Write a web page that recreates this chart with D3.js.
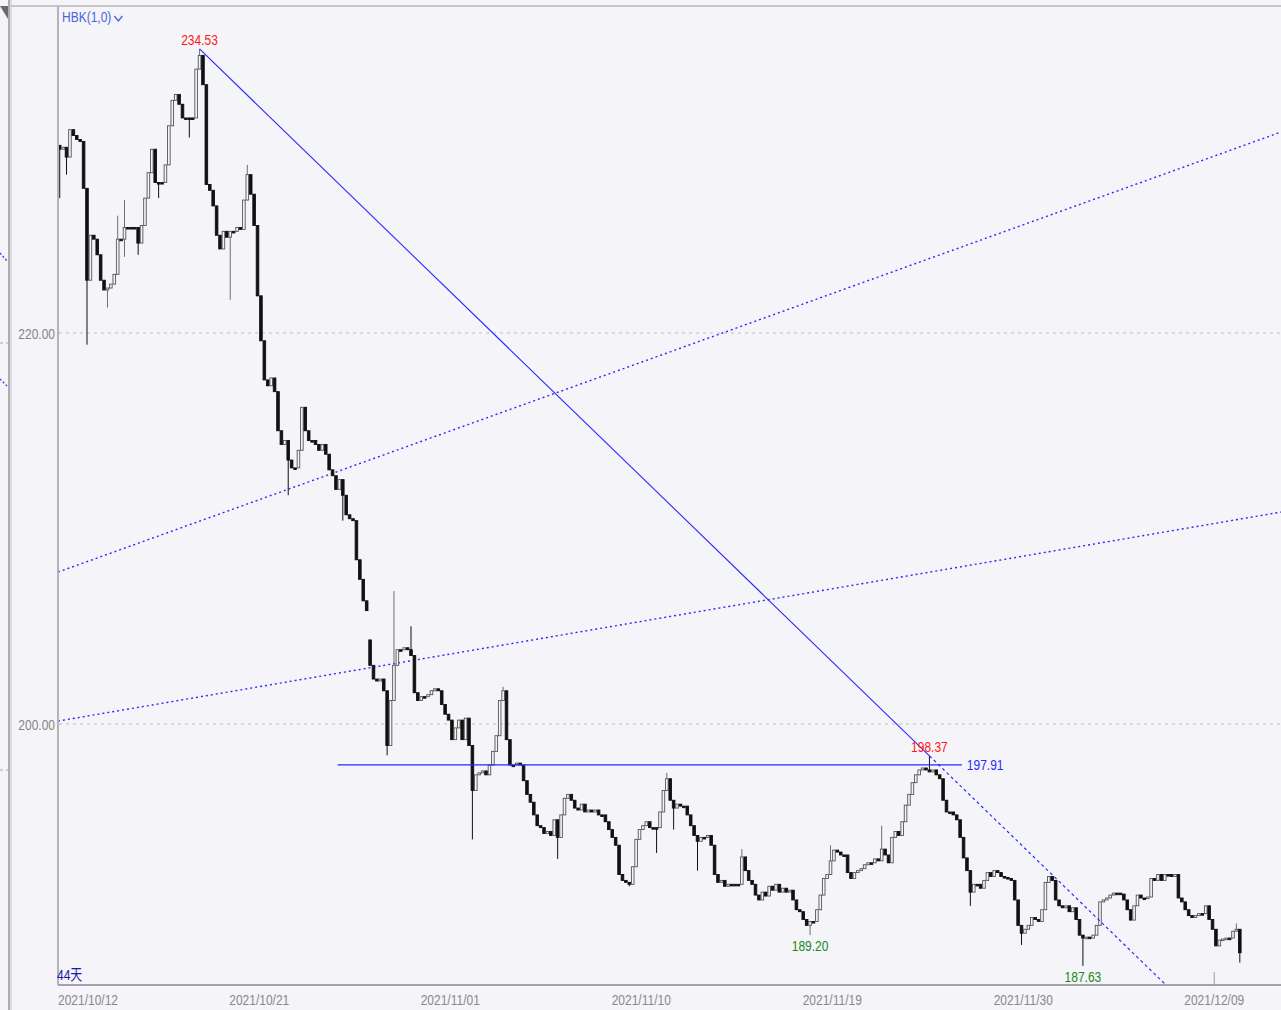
<!DOCTYPE html>
<html>
<head>
<meta charset="utf-8">
<script src="https://cdn.jsdelivr.net/npm/d3@7/dist/d3.min.js"></script>
<style>
body { margin: 0; background: #f4f4f9; overflow: hidden; }
text { font-family: "Liberation Sans", Arial, "Noto Sans CJK SC", sans-serif; font-size: 15px; }
</style>
</head>
<body>
<svg id="chart" width="1281" height="1010"></svg>
<script>
// bar closes (8 bars per trading day, first 3 bars are the tail of 2021/10/11)
var closes = [
  229.4, 229.5, 229.0, 230.4, 230.1, 229.9, 229.8, 227.4, 222.7, 225.0,
  224.8, 224.0, 222.7, 222.2, 222.3, 222.5, 223.0, 224.8, 224.8, 225.4,
  225.4, 225.4, 225.4, 224.6, 225.5, 226.9, 228.2, 229.4, 227.7, 227.7,
  227.7, 228.6, 230.6, 231.9, 232.2, 231.7, 231.0, 231.0, 231.0, 231.0,
  233.5, 234.2, 232.7, 227.6, 227.3, 226.5, 225.0, 224.3, 225.2, 224.9,
  225.2, 225.2, 225.4, 225.3, 226.8, 228.1, 227.1, 225.5, 221.9, 219.6,
  217.6, 217.3, 217.7, 217.0, 215.0, 214.3, 214.5, 213.5, 213.1, 213.1,
  214.0, 216.2, 215.0, 214.5, 214.5, 214.3, 214.0, 214.3, 213.8, 213.0,
  212.7, 212.0, 212.5, 211.7, 210.7, 210.5, 210.4, 208.4, 207.4, 206.3,
  205.8, 203.0, 202.3, 202.2, 202.3, 201.7, 198.9, 201.2, 203.0, 203.8,
  203.8, 203.9, 203.8, 203.5, 201.6, 201.2, 201.4, 201.4, 201.5, 201.7,
  201.8, 201.7, 201.0, 200.5, 200.2, 199.2, 199.8, 200.2, 199.2, 200.3,
  198.9, 196.6, 197.4, 197.5, 197.6, 197.4, 197.9, 198.6, 199.4, 201.2,
  201.7, 199.2, 197.9, 197.9, 198.0, 197.9, 197.1, 196.4, 196.0, 195.35,
  194.8, 194.7, 194.4, 194.5, 194.3, 195.1, 194.2, 195.35, 196.2, 196.4,
  196.1, 195.7, 195.6, 195.9, 195.5, 195.6, 195.5, 195.6, 195.35, 195.35,
  195.0, 194.6, 194.2, 193.8, 192.3, 192.0, 191.9, 191.8, 192.7, 194.1,
  194.6, 194.8, 195.0, 194.7, 194.7, 194.7, 195.5, 196.6, 197.2, 196.1,
  195.7, 195.9, 195.8, 195.8, 195.35, 194.8, 194.3, 194.0, 194.2, 194.2,
  194.3, 193.8, 192.3, 191.9, 192.0, 191.7, 191.8, 191.8, 191.8, 191.8,
  193.2, 192.5, 192.0, 191.8, 191.25, 191.0, 191.4, 191.2, 191.7, 191.5,
  191.8, 191.4, 191.6, 191.4, 191.5, 191.0, 190.5, 190.4, 190.0, 189.7,
  189.9, 189.9, 190.5, 191.25, 192.1, 192.3, 193.0, 193.55, 193.45, 193.3,
  193.3, 192.4, 192.1, 192.4, 192.5, 192.6, 192.8, 192.9, 192.9, 193.1,
  193.0, 193.6, 193.3, 192.9, 194.2, 194.5, 194.3, 195.0, 195.85, 196.4,
  197.0, 197.4, 197.65, 197.75, 197.65, 197.55, 197.65, 197.4, 197.2, 196.1,
  195.5, 195.5, 195.35, 195.1, 194.2, 193.15, 192.5, 191.4, 191.8, 191.8,
  191.6, 192.0, 192.4, 192.2, 192.5, 192.4, 192.2, 192.15, 192.1, 192.0,
  191.0, 189.7, 189.3, 189.5, 189.7, 190.1, 190.0, 189.9, 190.5, 191.9,
  192.2, 192.0, 191.0, 190.7, 190.6, 190.7, 190.4, 190.6, 190.0, 189.2,
  189.05, 189.1, 189.05, 189.2, 189.7, 190.9, 191.0, 191.1, 191.25, 191.35,
  191.35, 191.3, 191.0, 190.5, 189.97, 190.7, 191.25, 191.1, 191.1, 191.15,
  192.1, 192.0, 192.3, 192.0, 192.3, 192.3, 192.2, 192.3, 191.1, 190.9,
  190.5, 190.2, 190.1, 190.2, 190.3, 190.3, 190.7, 190.0, 189.5, 188.65,
  188.95, 189.0, 189.05, 189.05, 189.4, 189.5, 188.3
];
var firstOpen = 229.6;
// opening gaps: [bar, open]
var gapOpens = [[91, 204.3]];

// long shadows: [bar, high, low]
var wicks = [
  [0, null, 226.9], [2, null, 228.1], [8, null, 219.4], [14, null, 221.3],
  [17, 226.0, null], [19, 226.8, 223.9], [23, null, 224.0], [29, null, 226.9],
  [38, null, 230.0], [41, 234.53, null], [43, 231.9, null], [50, null, 221.7],
  [55, 228.6, null], [67, null, 211.7], [83, null, 210.4], [96, null, 198.4],
  [98, 206.8, null], [103, 205.0, null], [121, null, 194.1], [130, 201.9, null],
  [146, null, 193.1], [167, null, 191.7], [175, null, 193.4], [178, 197.5, null],
  [180, null, 194.6], [187, null, 192.5], [200, 193.6, null], [220, null, 189.20],
  [226, 193.8, null], [241, 194.8, null], [255, 198.37, null], [267, null, 190.7],
  [282, null, 188.7], [300, null, 187.63], [345, 189.8, null], [346, null, 187.8]
];

var dayLabels = ["2021/10/12", "2021/10/21", "2021/11/01", "2021/11/10", "2021/11/19", "2021/11/30", "2021/12/09"];
var dayStartBar = [3, 59, 115, 171, 227, 283, 339];
var gridPrices = [220, 200];

// marked extremes: bar index
var highMarks = [41, 255];
var lowMarks = [220, 300];

// drawn lines (bar, price)
var fallLine = [[41.5, 234.53], [255.5, 198.37]];
var levelLine = { price: 197.91, from: 82, to: 265 };
var channelA = [[0, 207.77], [358.6, 230.28]];
var channelB = [[0, 200.15], [358.6, 210.84]];

var W = 1281, H = 1010;
var pLeft = 58, pRight = 1281, pTop = 6, pBottom = 985;
var pxPerDay = 191 / 7, barsPerDay = 8, barW = pxPerDay / barsPerDay;

var bars = closes.map(function(c, i) {
	var o = i == 0 ? firstOpen : closes[i - 1];
	return { i: i, o: o, c: c };
});
gapOpens.forEach(function(g) { bars[g[0]].o = g[1]; });
bars.forEach(function(d) { d.h = Math.max(d.o, d.c); d.l = Math.min(d.o, d.c); });
wicks.forEach(function(w) {
	if (w[1] != null) bars[w[0]].h = Math.max(bars[w[0]].h, w[1]);
	if (w[2] != null) bars[w[0]].l = Math.min(bars[w[0]].l, w[2]);
});

var x = d3.scaleLinear().domain([0, 1]).range([pLeft, pLeft + barW]);
var y = d3.scaleLinear().domain([200, 220]).range([724, 333]);

var svg = d3.select("#chart");
svg.append("rect").attr("width", W).attr("height", H).attr("fill", "#f4f4f9");

svg.append("defs").append("clipPath").attr("id", "plot")
	.append("rect").attr("x", pLeft + 1).attr("y", pTop).attr("width", pRight - pLeft).attr("height", pBottom - pTop);

// narrow text: the terminal font is a condensed one
function txt(parent, tx, ty, s, color, anchor) {
	return parent.append("text")
		.attr("transform", "translate(" + tx + "," + ty + ") scale(0.8,1)")
		.attr("text-anchor", anchor || "start")
		.attr("fill", color)
		.text(s);
}

// left strip
svg.append("line").attr("x1", 9).attr("x2", 9).attr("y1", 0).attr("y2", H).attr("stroke", "#666");
svg.append("line").attr("x1", 11).attr("x2", 11).attr("y1", 0).attr("y2", H).attr("stroke", "#c4c4c8");
svg.append("path").attr("d", "M0,6L8,6L8,19Z").attr("fill", "#6a6a6a");
[343, 770].forEach(function(v) {
	svg.append("line").attr("x1", 0).attr("x2", 8).attr("y1", v).attr("y2", v)
		.attr("stroke", "#aaa").attr("stroke-dasharray", "3,3");
});
[[253, 262], [379, 387]].forEach(function(s) {
	svg.append("line").attr("x1", 0).attr("x2", 8).attr("y1", s[0]).attr("y2", s[1])
		.attr("stroke", "#3a3aff").attr("stroke-width", 1.3).attr("stroke-dasharray", "2,2");
});

// frame
svg.append("line").attr("x1", 11).attr("x2", pRight).attr("y1", pTop).attr("y2", pTop).attr("stroke", "#999");
svg.append("line").attr("x1", pLeft).attr("x2", pLeft).attr("y1", pTop).attr("y2", pBottom).attr("stroke", "#b4b4b8").attr("stroke-width", 2);
svg.append("line").attr("x1", pLeft).attr("x2", pRight).attr("y1", pBottom).attr("y2", pBottom).attr("stroke", "#a4a4a8").attr("stroke-width", 2);

// grid + y labels
gridPrices.forEach(function(p) {
	svg.append("line").attr("x1", pLeft + 1).attr("x2", pRight).attr("y1", y(p)).attr("y2", y(p))
		.attr("stroke", "#bdbdc0").attr("stroke-dasharray", "3,4");
	txt(svg, 55, y(p) + 5.5, p.toFixed(2), "#8a8580", "end");
});

// x labels
dayLabels.forEach(function(t, k) {
	var lbl = txt(svg, 0, 1005, t, "#8a8a8a", "start");
	var w = lbl.node().getComputedTextLength() * 0.8;
	var cx = Math.max(pLeft, x(dayStartBar[k]) - w / 2);
	lbl.attr("transform", "translate(" + cx + ",1005) scale(0.8,1)");
});
svg.append("line").attr("x1", x(dayStartBar[6])).attr("x2", x(dayStartBar[6]))
	.attr("y1", 972).attr("y2", pBottom).attr("stroke", "#9a9a9a");

var plot = svg.append("g").attr("clip-path", "url(#plot)");

function lineOf(pts, x0, x1) {
	var k = (pts[1][1] - pts[0][1]) / (pts[1][0] - pts[0][0]);
	return [[x0, pts[0][1] + k * (x0 - pts[0][0])], [x1, pts[0][1] + k * (x1 - pts[0][0])]];
}
var toPx = d3.line().x(function(d) { return x(d[0]); }).y(function(d) { return y(d[1]); });

// channel lines (dotted)
[channelA, channelB].forEach(function(c) {
	plot.append("path").attr("d", toPx(c)).attr("fill", "none")
		.attr("stroke", "#2a2aff").attr("stroke-width", 1.4).attr("stroke-dasharray", "2,3");
});

// candles
var g = plot.selectAll("g.bar").data(bars).enter().append("g").attr("class", "bar");
g.append("line")
	.attr("x1", function(d) { return x(d.i + 0.5); })
	.attr("x2", function(d) { return x(d.i + 0.5); })
	.attr("y1", function(d) { return y(d.h); })
	.attr("y2", function(d) { return y(d.l); })
	.attr("stroke", function(d) { return d.c > d.o ? "#6e6e6e" : "#111"; })
	.attr("stroke-width", 1);
g.append("rect")
	.attr("x", function(d) { return x(d.i + 0.5) - barW * 0.38; })
	.attr("width", barW * 0.76)
	.attr("y", function(d) { return y(Math.max(d.o, d.c)); })
	.attr("height", function(d) { return Math.max(1.6, Math.abs(y(d.o) - y(d.c))); })
	.attr("fill", function(d) { return d.c > d.o ? "#f4f4f9" : "#111"; })
	.attr("stroke", function(d) { return d.c > d.o ? "#555" : "#111"; })
	.attr("stroke-width", 0.9);

// falling line: solid between anchors, dashed beyond
plot.append("path").attr("d", toPx(fallLine)).attr("fill", "none").attr("stroke", "#2a2aff").attr("stroke-width", 1.1);
plot.append("path").attr("d", toPx(lineOf(fallLine, fallLine[1][0], 300 + fallLine[1][0])))
	.attr("fill", "none").attr("stroke", "#2a2aff").attr("stroke-width", 1.2).attr("stroke-dasharray", "3,3");

// level line
plot.append("line").attr("x1", x(levelLine.from)).attr("x2", x(levelLine.to))
	.attr("y1", y(levelLine.price)).attr("y2", y(levelLine.price))
	.attr("stroke", "#2a2aff").attr("stroke-width", 1.1);
txt(svg, x(levelLine.to) + 5, y(levelLine.price) + 5.5, levelLine.price.toFixed(2), "#2a2aff", "start");

// extreme labels
highMarks.forEach(function(i) {
	txt(svg, x(i + 0.5), y(bars[i].h) - 4, bars[i].h.toFixed(2), "#ff1a1a", "middle");
});
lowMarks.forEach(function(i) {
	txt(svg, x(i + 0.5), y(bars[i].l) + 16, bars[i].l.toFixed(2), "#1a8a1a", "middle");
});

// indicator name + day count
var hbk = txt(svg, 62, 22, "HBK(1,0)", "#4a66d8", "start");
var hx = 62 + hbk.node().getComputedTextLength() * 0.8 + 3;
svg.append("path").attr("d", "M" + hx + ",16L" + (hx + 4) + ",21L" + (hx + 8) + ",16")
	.attr("fill", "none").attr("stroke", "#4a66d8").attr("stroke-width", 1.4);
txt(svg, 57, 980, "44天", "#1a1aa8", "start");
</script>
</body>
</html>
